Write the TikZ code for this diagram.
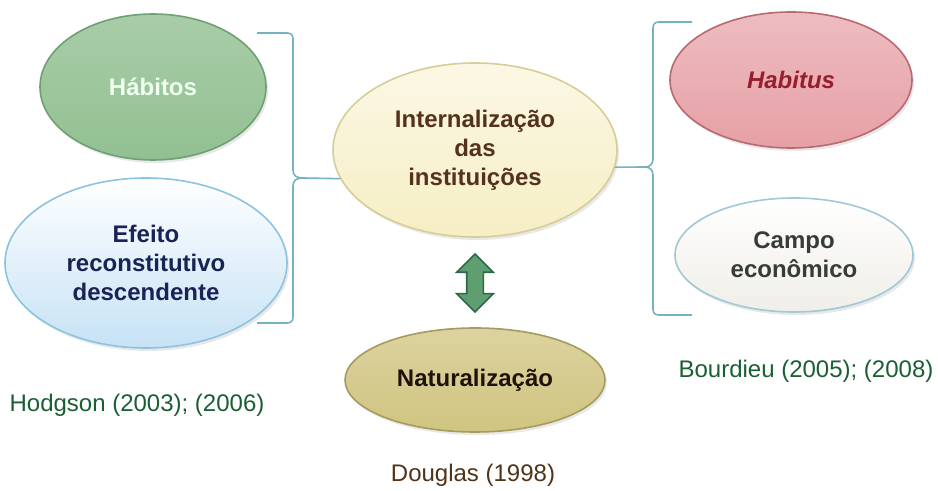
\documentclass[tikz,border=0pt]{standalone}
\usepackage{fontspec}
\setmainfont{Liberation Sans}
\usetikzlibrary{shapes.geometric,shapes.arrows,shadows}

\definecolor{habfill}{RGB}{146,192,146}
\definecolor{habdraw}{RGB}{110,160,115}
\definecolor{efefill}{RGB}{198,226,245}
\definecolor{efedraw}{RGB}{140,195,225}
\definecolor{efetext}{RGB}{25,35,85}
\definecolor{intfill}{RGB}{246,238,196}
\definecolor{intdraw}{RGB}{215,205,150}
\definecolor{inttext}{RGB}{85,50,30}
\definecolor{natfill}{RGB}{208,196,128}
\definecolor{natdraw}{RGB}{165,155,95}
\definecolor{hbsfill}{RGB}{230,160,166}
\definecolor{hbsdraw}{RGB}{185,105,112}
\definecolor{hbstext}{RGB}{150,30,45}
\definecolor{cmpfill}{RGB}{240,238,232}
\definecolor{cmpdraw}{RGB}{160,200,215}
\definecolor{cmptext}{RGB}{55,60,55}
\definecolor{braceteal}{RGB}{115,178,190}
\definecolor{arrowgreen}{RGB}{95,158,112}
\definecolor{arrowdark}{RGB}{45,105,70}
\definecolor{srcgreen}{RGB}{25,95,50}
\definecolor{srcbrown}{RGB}{80,52,25}

\begin{document}
\begin{tikzpicture}[x=0.5pt,y=-0.5pt,
	bubble/.style={ellipse,draw,thick,inner sep=0pt,align=center,
		font=\fontsize{12}{14.5}\selectfont\bfseries,
		drop shadow={opacity=0.18,shadow xshift=1pt,shadow yshift=-1.5pt}},
	brace line/.style={draw=braceteal,line width=0.8pt},
	source/.style={font=\fontsize{12}{14.5}\selectfont}
]

	\useasboundingbox (0,0) rectangle (938,491);

	% left group
	\node[bubble,minimum width=113pt,minimum height=73pt,draw=habdraw,
		top color=habfill!80!white,bottom color=habfill,text=white!94!green] (habitos) at (153,87) {Hábitos};
	\node[bubble,minimum width=141pt,minimum height=85pt,draw=efedraw,
		top color=white,bottom color=efefill,text=efetext] (efeito) at (146,263) {Efeito\\reconstitutivo\\descendente};

	% centre
	\node[bubble,minimum width=142pt,minimum height=87pt,draw=intdraw,
		top color=intfill!45!white,bottom color=intfill,text=inttext] (intern) at (475,150) {Internalização\\das\\instituições};
	\node[bubble,minimum width=130pt,minimum height=52pt,draw=natdraw,
		top color=natfill!75!white,bottom color=natfill,text=black!85!brown] (natural) at (475,380) {Naturalização};
	\node[double arrow,rotate=90,draw=arrowdark,fill=arrowgreen,thick,
		minimum height=29pt,minimum width=17.5pt,inner sep=3.75pt,
		double arrow head extend=5pt] (link) at (475,283) {};

	% right group
	\node[bubble,minimum width=121pt,minimum height=68pt,draw=hbsdraw,
		top color=hbsfill!70!white,bottom color=hbsfill,text=hbstext] (habitus) at (791,80) {\textit{Habitus}};
	\node[bubble,minimum width=119pt,minimum height=57pt,draw=cmpdraw,
		top color=white,bottom color=cmpfill,text=cmptext] (campo) at (794,255) {Campo\\econômico};

	% braces
	\draw[brace line] (257,33) -- (287,33) .. controls (291,33) and (293,35) .. (293,39) -- (293,170)
		.. controls (293,175) and (296,178) .. (302,178) coordinate (ltip)
		.. controls (296,178) and (293,181) .. (293,186) -- (293,317)
		.. controls (293,321) and (291,323) .. (287,323) -- (257,323);
	\draw[brace line] (ltip) -- (intern.192);

	\draw[brace line] (692,22) -- (659,22) .. controls (655,22) and (653,24) .. (653,28) -- (653,159)
		.. controls (653,164) and (650,167) .. (645,167) coordinate (rtip)
		.. controls (650,167) and (653,170) .. (653,175) -- (653,309)
		.. controls (653,313) and (655,315) .. (659,315) -- (692,315);
	\draw[brace line] (intern.-7) -- (rtip);

	% sources
	\node[source,text=srcgreen] (hodgson) at (137,405) {Hodgson (2003); (2006)};
	\node[source,text=srcgreen] (bourdieu) at (806,371) {Bourdieu (2005); (2008)};
	\node[source,text=srcbrown] (douglas) at (473,475) {Douglas (1998)};
\end{tikzpicture}
\end{document}
